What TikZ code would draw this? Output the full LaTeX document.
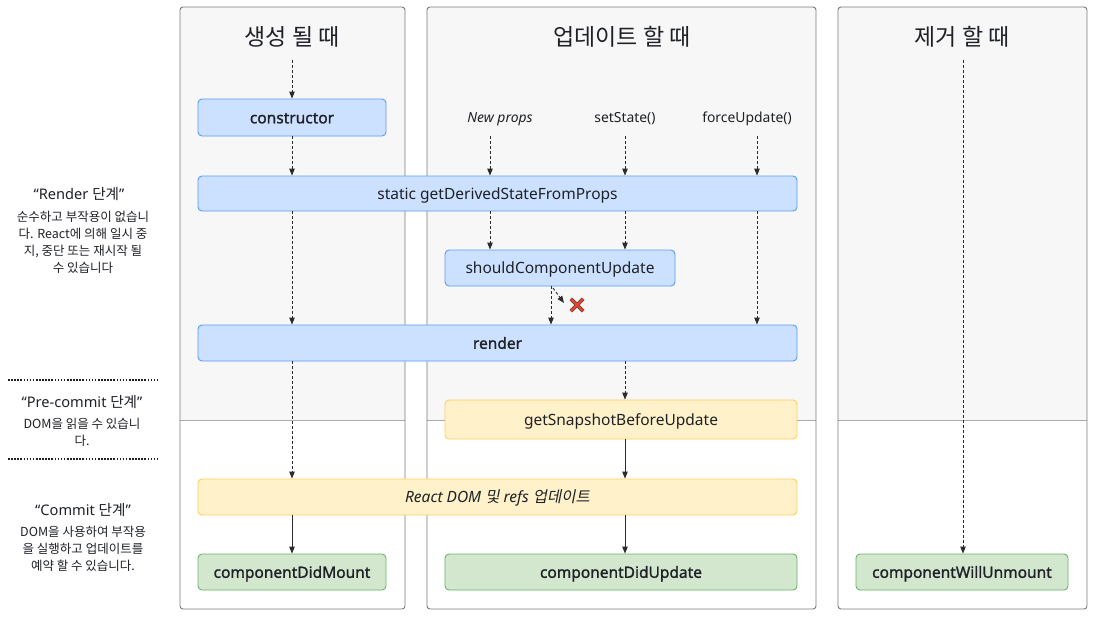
\documentclass[tikz,border=0pt]{standalone}
\usepackage{fontspec}
\setmainfont{Noto Sans}
\newfontfamily\semib{Noto Sans}[FakeBold=1.3]
\newfontfamily\kr{Noto Sans CJK KR}
\newfontfamily\kri{Noto Sans CJK KR}[FakeSlant=0.2]
\usetikzlibrary{arrows.meta}
\definecolor{colbg}{HTML}{F7F7F7}
\definecolor{colborder}{HTML}{7A7A7A}
\definecolor{colsep}{HTML}{ABABAB}
\definecolor{bluefill}{HTML}{CCE0FF}
\definecolor{blueline}{HTML}{5A9CF5}
\definecolor{yelfill}{HTML}{FFF1C9}
\definecolor{yelline}{HTML}{FFCF5A}
\definecolor{grnfill}{HTML}{D3E7CF}
\definecolor{grnline}{HTML}{67B766}
\definecolor{txt}{HTML}{1E2126}
\definecolor{arr}{HTML}{2B2B2B}
\definecolor{xred}{HTML}{E8412C}
\tikzset{
  box/.style={draw, rounded corners=4pt, line width=0.9pt, inner sep=0pt, text=txt,
    text height=13pt, text depth=1.4pt,
    font=\fontsize{15.5}{18}\selectfont},
  bluebox/.style={box, fill=bluefill, draw=blueline},
  yelbox/.style={box, fill=yelfill, draw=yelline},
  grnbox/.style={box, fill=grnfill, draw=grnline},
  major/.style={font=\semib\fontsize{15.5}{18}\selectfont},
  dasharrow/.style={draw=arr, line width=0.9pt, dash pattern=on 3pt off 2pt,
    -{Triangle[length=7pt,width=5.5pt]}},
  solidarrow/.style={draw=arr, line width=0.9pt, -{Triangle[length=7pt,width=5.5pt]}},
  trigger/.style={text=txt, inner sep=1pt, font=\fontsize{13.9}{16}\selectfont},
  title/.style={text=txt, font=\kr\fontsize{23}{26}\selectfont},
  phase/.style={text=txt, font=\fontsize{14.6}{17}\selectfont, align=center},
  phasedesc/.style={text=txt, font=\kr\fontsize{12.5}{17}\selectfont, align=center},
  phasesep/.style={draw=txt, line width=1.6pt, dash pattern=on 1.6pt off 1.5pt},
  column/.style={draw=colborder, line width=0.9pt, rounded corners=3pt},
}
\newcommand{\lifecol}[3]{%
  \begin{scope}
    \clip[rounded corners=3pt] (#1,7) rectangle (#2,609);
    \fill[white] (#1,7) rectangle (#2,609);
    \fill[colbg] (#1,7) rectangle (#2,420);
  \end{scope}
  \draw[colsep, line width=0.9pt] (#1,420) -- (#2,420);
  \draw[column] (#1,7) rectangle (#2,609);
}
\begin{document}
\begin{tikzpicture}[x=1pt, y=-1pt]
\useasboundingbox (0,0) rectangle (1095,616);
\fill[white] (0,0) rectangle (1095,616);

% columns
\lifecol{180}{405}{}
\lifecol{427}{816}{}
\lifecol{838}{1087}{}

% titles
\node[title] (t_mount) at (292,36.5) {생성 될 때};
\node[title] (t_update) at (622,36.5) {업데이트 할 때};
\node[title] (t_unmount) at (962,36.5) {제거 할 때};

% left phase texts
\node[phase] (p_render) at (79,194) {“Render {\kr 단계}”};
\node[phasedesc] (d_render) at (83,242.5) {순수하고 부작용이 없습니\\다. React에 의해 일시 중\\지, 중단 또는 재시작 될\\수 있습니다};
\coordinate (s1a) at (8,380); \coordinate (s1b) at (158,380);
\draw[phasesep] (s1a) -- (s1b);
\node[phase] (p_pre) at (82,402) {“Pre-commit {\kr 단계}”};
\node[phasedesc] (d_pre) at (82,432.5) {DOM을 읽을 수 있습니\\다.};
\coordinate (s2a) at (8,459); \coordinate (s2b) at (158,459);
\draw[phasesep] (s2a) -- (s2b);
\node[phase] (p_commit) at (83,510) {“Commit {\kr 단계}”};
\node[phasedesc] (d_commit) at (83,549) {DOM을 사용하여 부작용\\을 실행하고 업데이트를\\예약 할 수 있습니다.};

% lifecycle boxes
\node[bluebox, minimum width=188pt, minimum height=37pt, major] (constructor) at (292,117.5) {constructor};
\node[bluebox, minimum width=599pt, minimum height=35pt] (gdsfp) at (497.5,193.5) {static getDerivedStateFromProps};
\node[bluebox, minimum width=230pt, minimum height=36pt] (scu) at (560,268) {shouldComponentUpdate};
\node[bluebox, minimum width=599pt, minimum height=36pt, major] (render) at (497.5,343) {render};
\node[yelbox, minimum width=352pt, minimum height=39pt] (gsbu) at (621,419.5) {getSnapshotBeforeUpdate};
\node[yelbox, minimum width=599pt, minimum height=36pt] (rdom) at (497.5,497) {\itshape React DOM {\kri 및} refs {\kri 업데이트}};
\node[grnbox, minimum width=188pt, minimum height=36pt, major] (cdm) at (292,572) {componentDidMount};
\node[grnbox, minimum width=352pt, minimum height=36pt, major] (cdu) at (621,572) {componentDidUpdate};
\node[grnbox, minimum width=212pt, minimum height=36pt, major] (cwu) at (962,572) {componentWillUnmount};

% triggers
\node[trigger, font=\fontsize{13.9}{16}\selectfont\itshape] (newprops) at (500,119) {New props};
\node[trigger] (setstate) at (625,119) {setState()};
\node[trigger] (force) at (747,119) {forceUpdate()};

% x guides
\coordinate (xA) at (292,0);
\coordinate (xB) at (490,0);
\coordinate (xC) at (625,0);
\coordinate (xD) at (757,0);
\coordinate (xE) at (551,0);
\coordinate (xF) at (963,0);
\coordinate (top1) at (292,60);
\coordinate (top3) at (963,60);
\coordinate (tr1) at (490,136);
\coordinate (tr2) at (625,136);
\coordinate (tr3) at (757,136);
\coordinate (dstart) at (553,288);
\coordinate (dend) at (564,303);

% connectors
\draw[dasharrow] (top1) -- (constructor.north);
\draw[dasharrow] (constructor.south) -- (xA |- gdsfp.north);
\draw[dasharrow] (tr1) -- (xB |- gdsfp.north);
\draw[dasharrow] (tr2) -- (xC |- gdsfp.north);
\draw[dasharrow] (tr3) -- (xD |- gdsfp.north);
\draw[dasharrow] (xB |- gdsfp.south) -- (xB |- scu.north);
\draw[dasharrow] (xC |- gdsfp.south) -- (xC |- scu.north);
\draw[dasharrow] (xD |- gdsfp.south) -- (xD |- render.north);
\draw[dasharrow] (xA |- gdsfp.south) -- (xA |- render.north);
\draw[dasharrow] (xE |- scu.south) -- (xE |- render.north);
\draw[dasharrow] (dstart) -- (dend);
\draw[dasharrow] (xC |- render.south) -- (xC |- gsbu.north);
\draw[dasharrow] (xA |- render.south) -- (xA |- rdom.north);
\draw[solidarrow] (xC |- gsbu.south) -- (xC |- rdom.north);
\draw[solidarrow] (xA |- rdom.south) -- (cdm.north);
\draw[solidarrow] (xC |- rdom.south) -- (xC |- cdu.north);
\draw[dasharrow] (top3) -- (xF |- cwu.north);

% red cross
\node[inner sep=0pt, minimum size=12pt] (cross) at (577,305) {};
\draw[black!70, line width=3.6pt] (cross.north west) -- (cross.south east) (cross.north east) -- (cross.south west);
\draw[xred, line width=2.4pt] (cross.north west) -- (cross.south east) (cross.north east) -- (cross.south west);
\end{tikzpicture}
\end{document}
